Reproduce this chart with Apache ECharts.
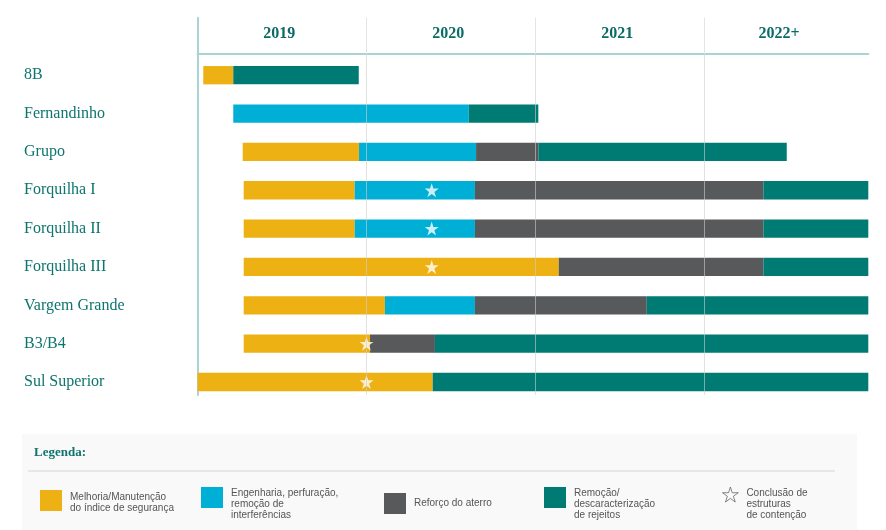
<!DOCTYPE html>
<html>
<head>
<meta charset="utf-8">
<script src="https://cdn.jsdelivr.net/npm/echarts@6/dist/echarts.min.js"></script>
<style>html,body{margin:0;padding:0;background:#fff;}#chart{width:886px;height:530px;}</style>
</head>
<body>
<div id="chart"></div>
<script>
// ---- data (months from Jan 2019) ----
const categories = ['8B','Fernandinho','Grupo','Forquilha I','Forquilha II','Forquilha III','Vargem Grande','B3/B4','Sul Superior'];
const yearLabels = ['2019','2020','2021','2022+'];
const yearLabelPos = [5.8, 17.8, 29.8, 41.3];
const melhoria   = [[0.41,2.54], null, [3.21,11.47], [3.28,11.16], [3.28,11.16], [3.28,25.65], [3.28,13.31], [3.28,12.25], [0,16.70]];
const engenharia = [null, [2.54,19.26], [11.47,19.78], [11.16,19.70], [11.16,19.70], null, [13.31,19.70], null, null];
const reforco    = [null, null, [19.78,24.2], [19.70,40.18], [19.70,40.18], [25.65,40.18], [19.70,31.9], [12.25,16.86], null];
const remocao    = [[2.54,11.45], [19.26,24.2], [24.2,41.84], [40.18,47.63], [40.18,47.63], [40.18,47.63], [31.9,47.63], [16.86,47.63], [16.70,47.63]];
const starRows   = [3, 4, 5, 7, 8];
const starMonths = [16.63, 16.63, 16.63, 12.0, 12.0];
const yearLines  = [12, 24, 36];

const names = {
  m: 'Melhoria/Manutenção do índice de segurança',
  e: 'Engenharia, perfuração, remoção de interferências',
  r: 'Reforço do aterro',
  d: 'Remoção/descaracterização de rejeitos',
  s: 'Conclusão de estruturas de contenção'
};
const legendLines = {};
legendLines[names.m] = ['Melhoria/Manutenção', 'do índice de segurança'];
legendLines[names.e] = ['Engenharia, perfuração,', 'remoção de', 'interferências'];
legendLines[names.r] = ['Reforço do aterro'];
legendLines[names.d] = ['Remoção/', 'descaracterização', 'de rejeitos'];
legendLines[names.s] = ['Conclusão de', 'estruturas', 'de contenção'];

const XMAX = 47.63;
const starPath = 'path://M10,0L12.245,6.91L19.51,6.91L13.63,11.18L15.88,18.09L10,13.82L4.12,18.09L6.37,11.18L0.49,6.91L7.755,6.91Z';

function toItems(arr){
  const out = [];
  arr.forEach((p, i) => { if (p) out.push([i, p[0], p[1]]); });
  return out;
}
function renderBar(params, api){
  const row = api.value(0);
  const p0 = api.coord([api.value(1), row]);
  const p1 = api.coord([api.value(2), row]);
  const h = Math.abs(api.size([0, 1])[1]) * 0.477;
  return { type: 'rect', shape: { x: p0[0], y: p0[1] - h / 2, width: p1[0] - p0[0], height: h }, style: api.style() };
}
function barSeries(name, arr, color){
  return {
    type: 'custom', name: name, xAxisIndex: 0, yAxisIndex: 0, z: 2,
    renderItem: renderBar, itemStyle: { color: color },
    encode: { x: [1, 2], y: 0 }, data: toItems(arr)
  };
}

const axisTeal = '#a8d5d3';
const labelTeal = '#0e746e';
const richT = { color: '#555', fontSize: 10, fontFamily: 'Liberation Sans, Arial, sans-serif', lineHeight: 11 };
function oneLegend(name, left, top, spacer, w, h, extra){
  return Object.assign({
    data: [name], left: left, top: top, padding: 0, orient: 'horizontal',
    itemWidth: w, itemHeight: h, icon: 'rect', selectedMode: false,
    formatter: n => {
      const body = legendLines[n].map(s => '{t|' + s + '}').join('\n');
      return spacer > 0 ? '{sp| }\n' + body : body;
    },
    textStyle: {
      color: '#555', fontSize: 10, fontFamily: 'Liberation Sans, Arial, sans-serif',
      padding: [0, 0, 0, 3],
      rich: { t: richT, sp: { fontSize: 1, lineHeight: spacer, height: spacer } }
    }
  }, extra || {});
}

const chart = echarts.init(document.getElementById('chart'), null, { renderer: 'canvas' });
chart.setOption({
  animation: false,
  backgroundColor: '#ffffff',
  graphic: [
    { type: 'rect', z: -10, shape: { x: 22, y: 434, width: 835, height: 96 }, style: { fill: '#f9f9f9' }, silent: true },
    { type: 'line', z: -9, shape: { x1: 28, y1: 471, x2: 835, y2: 471 }, style: { stroke: '#e7e7e7', lineWidth: 2 }, silent: true }
  ],
  title: {
    text: 'Legenda:', left: 34, top: 446, padding: 0,
    textStyle: { fontFamily: 'Liberation Serif, serif', fontWeight: 'bold', fontSize: 13, color: labelTeal }
  },
  legend: [
    oneLegend(names.m, 40, 487, 5, 22, 21),
    oneLegend(names.e, 201, 474.5, 13, 22, 21),
    oneLegend(names.r, 384, 493, 0, 22, 21),
    oneLegend(names.d, 544, 474.5, 13, 22, 21),
    oneLegend(names.s, 722, 468.5, 19, 16, 15, {
      data: [{ name: names.s, icon: starPath, itemStyle: { color: 'rgba(0,0,0,0)', borderColor: '#666', borderWidth: 1 } }]
    })
  ],
  grid: [
    { left: 197.5, right: 17.7, top: 54, bottom: 135 },
    { left: 197.5, right: 17.7, top: 17.7, height: 36.3 }
  ],
  xAxis: [
    {
      gridIndex: 0, type: 'value', position: 'top', min: 0, max: XMAX,
      axisLine: { show: true, onZero: false, lineStyle: { color: axisTeal, width: 2 } },
      axisTick: { show: false }, splitLine: { show: false },
      axisLabel: {
        customValues: yearLabelPos, margin: 12,
        formatter: v => yearLabels[yearLabelPos.indexOf(v)] || '',
        fontFamily: 'Liberation Serif, serif', fontWeight: 'bold', fontSize: 16, color: '#0b6b66'
      }
    },
    {
      gridIndex: 1, type: 'value', min: 0, max: XMAX,
      axisLine: { show: false }, axisTick: { show: false }, axisLabel: { show: false },
      splitLine: { show: false }
    }
  ],
  yAxis: [
    {
      gridIndex: 0, type: 'value', inverse: true, min: -0.553, max: 8.339,
      axisLine: { show: true, onZero: false, lineStyle: { color: axisTeal, width: 2 } },
      axisTick: { show: false }, splitLine: { show: false },
      axisLabel: {
        customValues: categories.map((c, i) => i), align: 'left', margin: 173.5,
        formatter: v => categories[v] || '',
        fontFamily: 'Liberation Serif, serif', fontSize: 16, color: labelTeal
      }
    },
    {
      gridIndex: 1, type: 'value', min: 0, max: 1,
      axisLine: { show: true, onZero: false, lineStyle: { color: axisTeal, width: 2 } },
      axisTick: { show: false }, axisLabel: { show: false }, splitLine: { show: false }
    }
  ],
  series: [
    barSeries(names.m, melhoria, '#EDB113'),
    barSeries(names.e, engenharia, '#00AFD5'),
    barSeries(names.r, reforco, '#58595B'),
    barSeries(names.d, remocao, '#007B74'),
    {
      type: 'line', name: 'grid', xAxisIndex: 0, yAxisIndex: 0, z: 3, data: [], silent: true,
      markLine: {
        silent: true, symbol: ['none', 'none'], label: { show: false },
        lineStyle: { color: 'rgba(205,205,205,0.6)', width: 1, type: 'solid' },
        data: yearLines.map(v => ({ xAxis: v }))
      }
    },
    {
      type: 'line', name: 'gridHeader', xAxisIndex: 1, yAxisIndex: 1, z: 3, data: [], silent: true,
      markLine: {
        silent: true, symbol: ['none', 'none'], label: { show: false },
        lineStyle: { color: '#e4e4e4', width: 1, type: 'solid' },
        data: yearLines.map(v => ({ xAxis: v }))
      }
    },
    {
      type: 'scatter', name: names.s, xAxisIndex: 0, yAxisIndex: 0, z: 4,
      symbol: starPath, symbolSize: 14, itemStyle: { color: '#ffffff' },
      data: starRows.map((r, i) => [starMonths[i], r])
    }
  ]
});
</script>
</body>
</html>
